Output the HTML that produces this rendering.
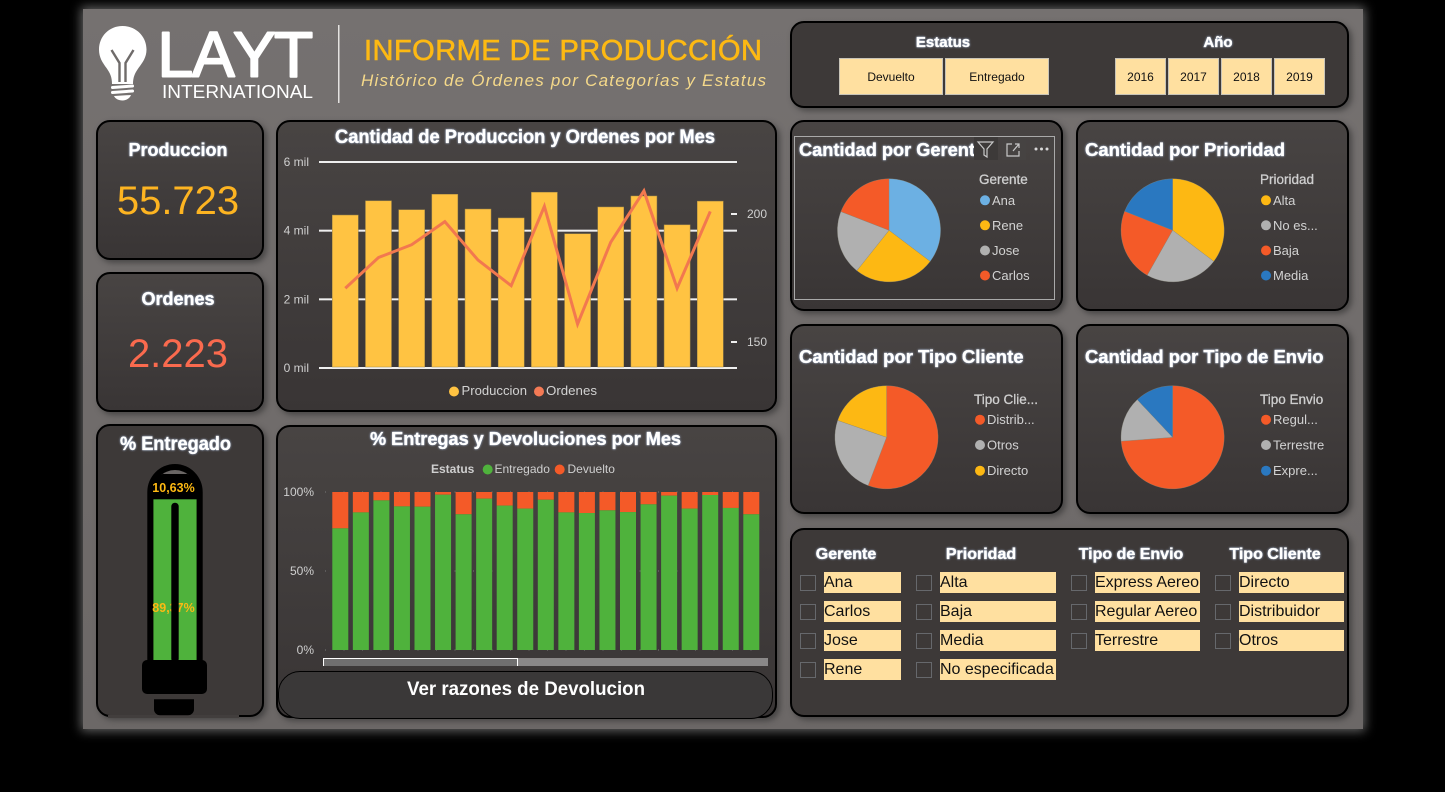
<!DOCTYPE html>
<html lang="es">
<head>
<meta charset="utf-8">
<title>Informe de Producción</title>
<style>
html,body{margin:0;padding:0;width:1445px;height:792px;overflow:hidden;background:#000;font-family:"Liberation Sans",sans-serif}
#main{position:absolute;left:83px;top:9px;width:1280px;height:720px;background:linear-gradient(#757170,#6c6867);box-shadow:0 0 10px 2px rgba(135,135,135,.75)}
.panel{position:absolute;box-sizing:border-box;border:2px solid #000;border-radius:14px;background:linear-gradient(#484443,#393535);box-shadow:3px 3px 6px rgba(40,40,40,.55)}
.flat{background:#3d3938}
.btn{position:absolute;box-sizing:border-box;top:58px;height:37px;background:#ffe0a0;border:1px solid #c8c4b8;color:#111;font-size:12px;line-height:36px;text-align:center}
.cb{position:absolute;box-sizing:border-box;width:16px;height:16px;border:1px solid #66686c}
.lb{position:absolute;height:21px;background:#ffe0a0;color:#111;font-size:16px;line-height:22px;white-space:nowrap;overflow:hidden}
#ver-btn{position:absolute;box-sizing:border-box;left:278px;top:671px;width:495px;height:48px;border:1.5px solid #000;border-radius:22px;background:#3a3838}
#root{position:absolute;left:0;top:0;pointer-events:none}
svg text{font-family:"Liberation Sans",sans-serif}
.t{font-weight:bold;fill:#fff;stroke:#fff;stroke-width:.35px;filter:drop-shadow(0 0 1px rgba(190,215,255,.8))}
.lg{font-size:13px;fill:#d2d2d2}
.lt{font-size:13.5px;fill:#cfcfcf;stroke:#cfcfcf;stroke-width:.3px}
.ax{font-size:12px;fill:#cfcfcf}
</style>
</head>
<body>
<div id="main"></div>

<div class="panel flat" style="left:790px;top:21px;width:559px;height:87px"></div>
<div class="panel" style="left:96px;top:120px;width:168px;height:140px"></div>
<div class="panel" style="left:96px;top:272px;width:168px;height:140px"></div>
<div class="panel flat" style="left:96px;top:424px;width:168px;height:293px"></div>
<div class="panel" style="left:276px;top:120px;width:501px;height:292px"></div>
<div class="panel" style="left:276px;top:425px;width:501px;height:293px"></div>
<div class="panel" style="left:790px;top:120px;width:273px;height:191px"></div>
<div class="panel" style="left:1076px;top:120px;width:273px;height:191px"></div>
<div class="panel" style="left:790px;top:324px;width:273px;height:190px"></div>
<div class="panel" style="left:1076px;top:324px;width:273px;height:190px"></div>
<div class="panel flat" style="left:790px;top:528px;width:559px;height:189px"></div>

<div class="btn" style="left:839px;width:104px">Devuelto</div>
<div class="btn" style="left:945px;width:104px">Entregado</div>
<div class="btn" style="left:1115px;width:51px">2016</div>
<div class="btn" style="left:1168px;width:51px">2017</div>
<div class="btn" style="left:1221px;width:51px">2018</div>
<div class="btn" style="left:1274px;width:51px">2019</div>

<div class="cb" style="left:800px;top:575px"></div><div class="lb" style="left:824px;top:572px;width:77px">Ana</div>
<div class="cb" style="left:800px;top:604px"></div><div class="lb" style="left:824px;top:601px;width:77px">Carlos</div>
<div class="cb" style="left:800px;top:633px"></div><div class="lb" style="left:824px;top:630px;width:77px">Jose</div>
<div class="cb" style="left:800px;top:662px"></div><div class="lb" style="left:824px;top:659px;width:77px">Rene</div>

<div class="cb" style="left:916px;top:575px"></div><div class="lb" style="left:940px;top:572px;width:116px">Alta</div>
<div class="cb" style="left:916px;top:604px"></div><div class="lb" style="left:940px;top:601px;width:116px">Baja</div>
<div class="cb" style="left:916px;top:633px"></div><div class="lb" style="left:940px;top:630px;width:116px">Media</div>
<div class="cb" style="left:916px;top:662px"></div><div class="lb" style="left:940px;top:659px;width:116px">No especificada</div>

<div class="cb" style="left:1071px;top:575px"></div><div class="lb" style="left:1095px;top:572px;width:105px">Express Aereo</div>
<div class="cb" style="left:1071px;top:604px"></div><div class="lb" style="left:1095px;top:601px;width:105px">Regular Aereo</div>
<div class="cb" style="left:1071px;top:633px"></div><div class="lb" style="left:1095px;top:630px;width:105px">Terrestre</div>

<div class="cb" style="left:1215px;top:575px"></div><div class="lb" style="left:1239px;top:572px;width:105px">Directo</div>
<div class="cb" style="left:1215px;top:604px"></div><div class="lb" style="left:1239px;top:601px;width:105px">Distribuidor</div>
<div class="cb" style="left:1215px;top:633px"></div><div class="lb" style="left:1239px;top:630px;width:105px">Otros</div>

<svg id="root" width="1445" height="792" viewBox="0 0 1445 792" xmlns="http://www.w3.org/2000/svg">
  <defs>
    <clipPath id="gerente-clip"><rect x="795" y="136" width="179" height="30"/></clipPath>
    <clipPath id="lamp-clip"><path d="M153.3 660V492a21.7 22 0 0 1 43.4 0V660Z"/></clipPath>
  </defs>

  <!-- logo -->
  <g>
    <path fill="#fff" d="M122.500 26c-13.500 0-23.500 10.500-23.500 23.500 0 8 3.500 13 7.500 18.500 3.500 5 5.500 9 5.500 16h21c0-7 2-11 5.500-16 4-5.500 8-10.500 8-18.500C146.500 36.500 136 26 122.500 26Z"/>
    <path fill="none" stroke="#6f6b6a" stroke-width="2.400" d="M111.500 50l8 13v19M133.500 50l-8 13v19"/>
    <path fill="none" stroke="#fff" stroke-width="3" stroke-linecap="round" d="M112.500 87.500l20-1.500M112.500 92.500l20-1.500"/>
    <path fill="#fff" d="M114 96l17-1c-1 3-4.500 5.500-8.500 5.500s-7.500-2-8.500-4.500Z"/>
    <text x="157.500 192 233 274" y="76.500" font-size="64" fill="#fff" stroke="#fff" stroke-width="2" stroke-linejoin="round">LAYT</text>
    <text x="162" y="98" font-size="18" fill="#fff" textLength="151" lengthAdjust="spacingAndGlyphs">INTERNATIONAL</text>
  </g>
  <rect x="338" y="25" width="1.500" height="78" fill="#e4e2e0"/>
  <text x="364" y="60" font-size="29" fill="#fdb913" stroke="#fdb913" stroke-width=".6" textLength="398" lengthAdjust="spacing">INFORME DE PRODUCCIÓN</text>
  <text x="361" y="86" font-size="17" font-style="italic" fill="#f5d98a" textLength="405" lengthAdjust="spacing">Histórico de Órdenes por Categorías y Estatus</text>

  <!-- filter titles -->
  <text class="t" x="943" y="47" font-size="15" text-anchor="middle">Estatus</text>
  <text class="t" x="1218" y="47" font-size="15" text-anchor="middle">Año</text>

  <!-- KPI cards -->
  <text class="t" x="178" y="156" font-size="18" text-anchor="middle">Produccion</text>
  <text x="178" y="214" font-size="40" fill="#fdb421" text-anchor="middle">55.723</text>
  <text class="t" x="178" y="305" font-size="18" text-anchor="middle">Ordenes</text>
  <text x="178" y="367" font-size="40" fill="#fa6a4e" text-anchor="middle">2.223</text>
  <text class="t" x="120" y="450" font-size="19" textLength="111" lengthAdjust="spacingAndGlyphs">% Entregado</text>

  <!-- gauge -->
  <g>
    <rect x="108" y="715" width="131" height="3" fill="#423e3d"/>
    <path fill="#000" d="M147.300 662V492a27.700 28 0 0 1 55.400 0V662Z"/>
    <g clip-path="url(#lamp-clip)">
      <rect x="153" y="470" width="44" height="5" fill="#6a6665"/>
      <rect x="153" y="474" width="44" height="25.300" fill="#000"/>
      <rect x="153.300" y="499.300" width="43.400" height="161" fill="#4fb23c"/>
    </g>
    <text x="173.500" y="492" font-size="12.500" font-weight="bold" fill="#fdb913" text-anchor="middle">10,63%</text>
    <text x="173.500" y="612" font-size="12.500" font-weight="bold" fill="#fdb913" text-anchor="middle">89,37%</text>
    <rect x="171.300" y="502.700" width="7.400" height="160" rx="3.700" fill="#000"/>
    <rect x="142" y="660" width="65" height="34" rx="5" fill="#000"/>
    <path fill="#000" d="M154 699.300h40v10a6 6 0 0 1-6 6h-28a6 6 0 0 1-6-6Z"/>
  </g>

  <!-- chart titles -->
  <text class="t" x="335" y="143" font-size="19" textLength="380" lengthAdjust="spacingAndGlyphs">Cantidad de Produccion y Ordenes por Mes</text>
  <text class="t" x="370" y="445" font-size="18" textLength="311" lengthAdjust="spacingAndGlyphs">% Entregas y Devoluciones por Mes</text>

  <g id="bar-chart"></g>
  <g>
    <circle cx="454" cy="391.500" r="5" fill="#ffc342"/>
    <text class="lg" x="461.500" y="395" textLength="65.500" lengthAdjust="spacingAndGlyphs">Produccion</text>
    <circle cx="539" cy="391.500" r="5" fill="#f47a55"/>
    <text class="lg" x="546" y="395" textLength="51" lengthAdjust="spacingAndGlyphs">Ordenes</text>
  </g>

  <g id="stack-chart"></g>
  <g>
    <text x="431" y="473" font-size="12" font-weight="bold" fill="#cfcfcf">Estatus</text>
    <circle cx="487.700" cy="469.500" r="5" fill="#4fb23c"/>
    <text x="494.500" y="473" font-size="12" fill="#cfcfcf">Entregado</text>
    <circle cx="559.700" cy="469.500" r="5" fill="#f45a28"/>
    <text x="567.500" y="473" font-size="12" fill="#cfcfcf">Devuelto</text>
  </g>
  <rect x="323" y="658" width="445" height="8" fill="#8a8888"/>
  <path d="M323.500 666V658.500H517.500V666" fill="#706f6f" stroke="#fff" stroke-width="1"/>

  <!-- pies -->
  <g id="pies"></g>
  <text class="t" x="799" y="156" font-size="18.500" clip-path="url(#gerente-clip)" textLength="186" lengthAdjust="spacingAndGlyphs">Cantidad por Gerente</text>
  <text class="t" x="1085" y="156" font-size="18.500" textLength="200" lengthAdjust="spacingAndGlyphs">Cantidad por Prioridad</text>
  <text class="t" x="799" y="363" font-size="18.500" textLength="224.500" lengthAdjust="spacingAndGlyphs">Cantidad por Tipo Cliente</text>
  <text class="t" x="1085" y="363" font-size="18.500" textLength="238.500" lengthAdjust="spacingAndGlyphs">Cantidad por Tipo de Envio</text>

  <!-- focus frame & tools -->
  <rect x="794.500" y="136.500" width="260" height="163" fill="none" stroke="#a9a9a9" stroke-width="1"/>
  <g>
    <rect x="974" y="137" width="24" height="23" fill="#3d3a39"/>
    <path d="M978 142h15l-6 7v8l-3-2v-6Z" fill="none" stroke="#c8c8c8" stroke-width="1.200"/>
    <rect x="1002" y="137" width="24" height="23" fill="#464342"/>
    <path d="M1012 144h-5v12h12v-5M1013 151l6-7M1015 144h4v4" fill="none" stroke="#c8c8c8" stroke-width="1.200"/>
    <rect x="1030" y="137" width="24" height="23" fill="#464342"/>
    <circle cx="1036" cy="149" r="1.500" fill="#d8d8d8"/>
    <circle cx="1041.500" cy="149" r="1.500" fill="#d8d8d8"/>
    <circle cx="1047" cy="149" r="1.500" fill="#d8d8d8"/>
  </g>

  <!-- slicer headers -->
  <text class="t" x="846" y="559" font-size="16" text-anchor="middle">Gerente</text>
  <text class="t" x="981" y="559" font-size="16" text-anchor="middle">Prioridad</text>
  <text class="t" x="1131" y="559" font-size="16" text-anchor="middle">Tipo de Envio</text>
  <text class="t" x="1275" y="559" font-size="16" text-anchor="middle">Tipo Cliente</text>
</svg>

<div id="ver-btn"></div>
<svg style="position:absolute;left:0;top:0;pointer-events:none" width="1445" height="792">
  <text x="407" y="695" font-size="19" font-weight="bold" fill="#fff" textLength="238" lengthAdjust="spacingAndGlyphs">Ver razones de Devolucion</text>
</svg>

<script>
/* chart data */
const produccionValues = [4.455, 4.87, 4.61, 5.06, 4.63, 4.37, 5.12, 3.91, 4.69, 5.01, 4.17, 4.86];
const ordenesValues = [171, 183, 188, 197, 182, 172, 203, 157, 189, 209, 171, 201];
const produccionTicks = [0, 2, 4, 6];
const ordenesTicks = [150, 200];
const entregadoPct = [77, 87.1, 94.7, 90.9, 90.7, 98.3, 85.9, 95.8, 91.4, 89.5, 95.1, 87.1, 86.7, 88.4, 87.3, 92.2, 97.7, 89.5, 98.1, 89.9, 85.9];
const pctTicks = [0, 50, 100];
const gerenteLabels = ['Ana', 'Rene', 'Jose', 'Carlos'];
const gerenteValues = [35.3, 25.4, 20.2, 19.1];
const prioridadLabels = ['Alta', 'No es...', 'Baja', 'Media'];
const prioridadValues = [35.3, 22.9, 22.8, 19];
const clienteLabels = ['Distrib...', 'Otros', 'Directo'];
const clienteValues = [55.8, 24.5, 19.7];
const envioLabels = ['Regul...', 'Terrestre', 'Expre...'];
const envioValues = [73.8, 14.2, 12];

const NS = 'http://www.w3.org/2000/svg';
function mk(parent, tag, attrs, txt) {
  const el = document.createElementNS(NS, tag);
  for (const k in attrs) el.setAttribute(k, attrs[k]);
  if (txt !== undefined) el.textContent = txt;
  parent.appendChild(el);
  return el;
}

/* production chart */
(function () {
  const g = document.getElementById('bar-chart');
  const y1 = v => 368 - (v / 6) * 206;
  const y2 = v => 342 - (v - 150) * 2.56;
  const cx = i => 345.3 + i * 33.18;
  produccionTicks.forEach(t => {
    const line = mk(g, 'rect', { x: 319, y: y1(t) - 1, width: 418, height: 2, fill: '#efefef' });
    
    
    const lab = mk(g, 'text', { x: 309, y: y1(t) + 4, 'text-anchor': 'end', class: 'ax' }, t + ' mil');
    
    
  });
  ordenesTicks.forEach(t => {
    const tick = mk(g, 'rect', { x: 731, y: y2(t) - 1, width: 6, height: 2, fill: '#efefef' });
    
    
    const lab = mk(g, 'text', { x: 747, y: y2(t) + 4, class: 'ax' }, String(t));
    
    
  });
  produccionValues.forEach((v, i) => {
    const bar = mk(g, 'rect', { x: cx(i) - 13, y: y1(v), width: 26, height: 367 - y1(v), fill: '#ffc342', stroke: '#a48a48', 'stroke-width': 0.5 });
    
    
  });
  const pts = ordenesValues.map((v, i) => cx(i) + ',' + y2(v)).join(' ');
  const line = mk(g, 'polyline', { points: pts, fill: 'none', stroke: '#f2784f', 'stroke-width': 3, 'stroke-linejoin': 'miter' });
  
  
})();

/* delivery chart */
(function () {
  const g = document.getElementById('stack-chart');
  const y = p => 650 - p * 1.58;
  const x = i => 332.3 + i * 20.55;
  pctTicks.forEach(t => {
    const lab = mk(g, 'text', { x: 314, y: y(t) + 4, 'text-anchor': 'end', class: 'ax' }, t + '%');
    
    
    const grid = mk(g, 'line', { x1: 325, x2: 764, y1: y(t), y2: y(t), stroke: '#777', 'stroke-width': 1, 'stroke-dasharray': '1 17.500' });
    
    
  });
  entregadoPct.forEach((p, i) => {
    const red = mk(g, 'rect', { x: x(i), y: y(100), width: 16, height: y(p) - y(100), fill: '#f45a28' });
    
    
    const green = mk(g, 'rect', { x: x(i), y: y(p), width: 16, height: y(0) - y(p), fill: '#4fb23c' });
    
    
  });
})();

/* pies */
const sliceColors = { 'Ana': '#6cb0e3', 'Rene': '#fdb813', 'Jose': '#b0b0b0', 'Carlos': '#f45a28', 'Alta': '#fdb813', 'No es...': '#b0b0b0', 'Baja': '#f45a28', 'Media': '#2a78c0', 'Distrib...': '#f45a28', 'Otros': '#b0b0b0', 'Directo': '#fdb813', 'Regul...': '#f45a28', 'Terrestre': '#b0b0b0', 'Expre...': '#2a78c0' };
function drawPie(labels, values, cx, cy, title, legX, titleY, itemYs) {
  const g = document.getElementById('pies');
  const r = 51.6;
  const total = values.reduce((a, b) => a + b, 0);
  let start = 0;
  values.forEach((v, i) => {
    const end = start + v / total * 2 * Math.PI;
    const d = 'M' + cx + ' ' + cy +
      'L' + (cx + r * Math.sin(start)) + ' ' + (cy - r * Math.cos(start)) +
      'A' + r + ' ' + r + ' 0 ' + (end - start > Math.PI ? 1 : 0) + ' 1 ' +
      (cx + r * Math.sin(end)) + ' ' + (cy - r * Math.cos(end)) + 'Z';
    const slice = mk(g, 'path', { d: d, fill: sliceColors[labels[i]], stroke: '#8a8a7a', 'stroke-width': 0.3 });
    
    
    start = end;
    const dot = mk(g, 'circle', { cx: legX + 6, cy: itemYs[i], r: 5, fill: sliceColors[labels[i]] });
    
    
    const lab = mk(g, 'text', { x: legX + 13, y: itemYs[i] + 4.5, class: 'lg' }, labels[i]);
    
    
  });
  const t = mk(g, 'text', { x: legX, y: titleY, class: 'lt' }, title);
  
  
}
drawPie(gerenteLabels, gerenteValues, 889, 230.3, 'Gerente', 979, 184, [200.3, 225.3, 250.5, 275.5]);
drawPie(prioridadLabels, prioridadValues, 1172.6, 230.3, 'Prioridad', 1260, 184, [200.3, 225.3, 250.5, 275.5]);
drawPie(clienteLabels, clienteValues, 886.5, 437.3, 'Tipo Clie...', 974, 404, [419.7, 445, 470.7]);
drawPie(envioLabels, envioValues, 1172.6, 437.3, 'Tipo Envio', 1260, 404, [419.7, 445, 470.7]);
</script>
</body>
</html>
